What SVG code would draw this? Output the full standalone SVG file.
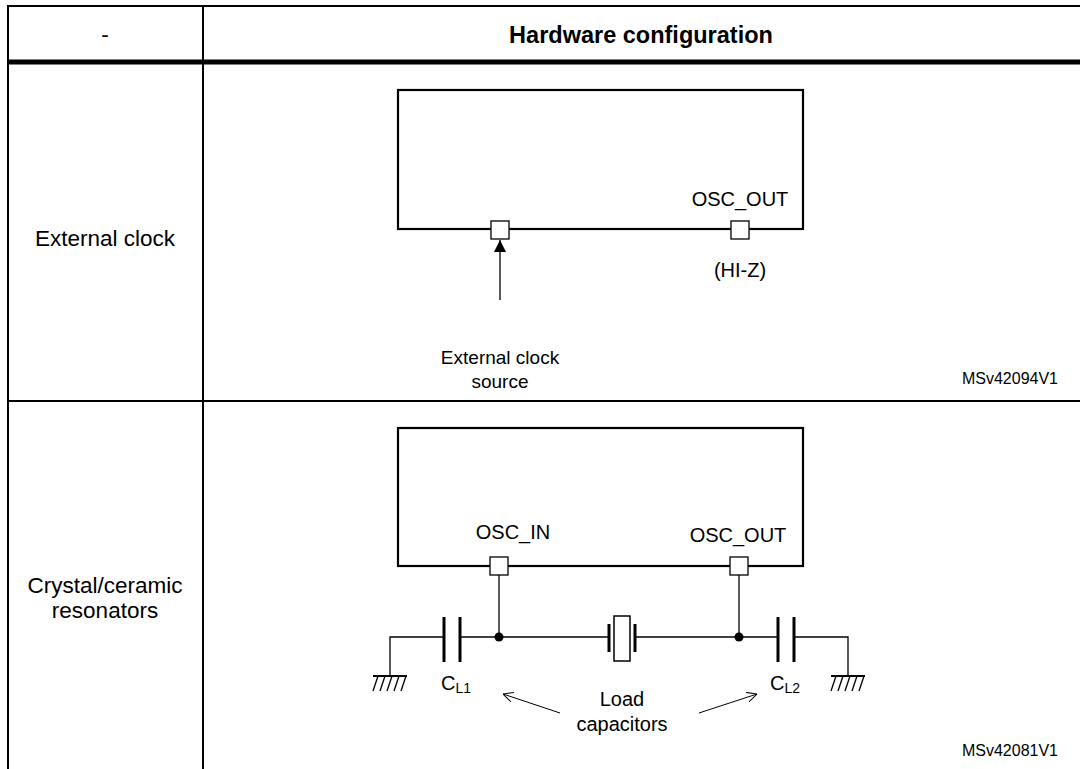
<svg xmlns="http://www.w3.org/2000/svg" width="1080" height="769" viewBox="0 0 1080 769">
<style>
text{font-family:"Liberation Sans",Arial,sans-serif;fill:#000}
.cell{font-size:22.5px;text-anchor:middle}
.hdr{font-size:23.5px;font-weight:bold;text-anchor:middle}
.lbl{font-size:20px;text-anchor:middle}
.src{font-size:19px;text-anchor:middle}
.ref{font-size:16px;text-anchor:end}
.tb{stroke:#000;stroke-width:2;fill:none}
.box{stroke:#000;stroke-width:2.2;fill:none}
.pin{stroke:#000;stroke-width:1.3;fill:#fff}
.w{stroke:#000;stroke-width:1.3;fill:none}
.plate{stroke:#000;stroke-width:3;fill:none}
</style>
<defs>
<marker id="fa" viewBox="0 0 12 12" refX="12" refY="6" markerWidth="12" markerHeight="12" markerUnits="userSpaceOnUse" orient="auto"><path d="M0,0 L12,6 L0,12 z" fill="#000"/></marker>
<marker id="oa" viewBox="0 0 10 10" refX="10" refY="5" markerWidth="10" markerHeight="10" markerUnits="userSpaceOnUse" orient="auto"><path d="M0,0 L10,5 L0,10" fill="none" stroke="#000" stroke-width="1"/></marker>
<g id="gnd"><line x1="-17" y1="0" x2="17" y2="0" stroke="#000" stroke-width="2"/><path d="M-12,0 l-5,15 M-5,0 l-5,15 M2,0 l-5,15 M9,0 l-5,15 M16,0 l-5,15" stroke="#000" stroke-width="1.3"/></g>
</defs>
<rect width="1080" height="769" fill="#fff"/>
<g id="table">
<line class="tb" x1="8" y1="6" x2="1080" y2="6"/>
<line x1="8" y1="62" x2="1080" y2="62" stroke="#000" stroke-width="5"/>
<line class="tb" x1="8" y1="401" x2="1080" y2="401"/>
<line class="tb" x1="8" y1="5" x2="8" y2="769"/>
<line class="tb" x1="203" y1="6" x2="203" y2="769"/>
<text class="cell" x="105" y="42">-</text>
<text class="hdr" x="641" y="43">Hardware configuration</text>
<text class="cell" x="105" y="246">External clock</text>
<text class="cell" x="105" y="593">Crystal/ceramic</text>
<text class="cell" x="105" y="618">resonators</text>
</g>
<g id="mcu1">
<rect class="box" x="398" y="90" width="405" height="139"/>
<text class="lbl" x="740" y="206">OSC_OUT</text>
</g>
<g id="pin1a"><rect class="pin" x="491" y="221" width="18" height="18"/></g>
<g id="pin1b"><rect class="pin" x="731" y="221" width="18" height="18"/><text class="lbl" x="740" y="277">(HI-Z)</text></g>
<g id="extsrc"><text class="src" x="500" y="364">External clock</text><text class="src" x="500" y="388">source</text></g>
<text class="ref" x="1058" y="384">MSv42094V1</text>
<g id="mcu2">
<rect class="box" x="398" y="428" width="405" height="138"/>
<text class="lbl" x="513" y="539">OSC_IN</text>
<text class="lbl" x="738" y="542">OSC_OUT</text>
</g>
<g id="pin2a"><rect class="pin" x="490" y="557" width="18" height="18"/></g>
<g id="pin2b"><rect class="pin" x="730" y="557" width="18" height="18"/></g>
<g id="cl1"><line class="plate" x1="444" y1="617" x2="444" y2="662"/><line class="plate" x1="460" y1="617" x2="460" y2="662"/><text x="441" y="690" font-size="20">C<tspan font-size="14" dy="3">L1</tspan></text></g>
<g id="cl2"><line class="plate" x1="778" y1="617" x2="778" y2="662"/><line class="plate" x1="794" y1="617" x2="794" y2="662"/><text x="770" y="690" font-size="20">C<tspan font-size="14" dy="3">L2</tspan></text></g>
<g id="xtal"><line class="plate" x1="609" y1="624" x2="609" y2="652"/><rect x="614" y="616" width="16" height="45" fill="#fff" stroke="#000" stroke-width="1.5"/><line class="plate" x1="635" y1="624" x2="635" y2="652"/></g>
<g id="gnd1"><use href="#gnd" x="390" y="676"/></g>
<g id="gnd2"><use href="#gnd" x="848" y="676"/></g>
<g id="loadlbl"><text class="lbl" x="622" y="706">Load</text><text class="lbl" x="622" y="731">capacitors</text></g>
<text class="ref" x="1058" y="756">MSv42081V1</text>
<g id="connectors">
<line class="w" x1="500" y1="300" x2="500" y2="240" marker-end="url(#fa)"/>
<line class="w" x1="499" y1="575" x2="499" y2="637"/>
<line class="w" x1="739" y1="575" x2="739" y2="637"/>
<polyline class="w" points="390,676 390,637 444,637"/>
<line class="w" x1="460" y1="637" x2="609" y2="637"/>
<line class="w" x1="635" y1="637" x2="778" y2="637"/>
<polyline class="w" points="794,637 848,637 848,676"/>
<circle cx="499" cy="637" r="4.5" fill="#000"/>
<circle cx="739" cy="637" r="4.5" fill="#000"/>
<line x1="560" y1="713" x2="503" y2="694" stroke="#000" stroke-width="1" marker-end="url(#oa)"/>
<line x1="699" y1="713" x2="757" y2="694" stroke="#000" stroke-width="1" marker-end="url(#oa)"/>
</g>
</svg>
